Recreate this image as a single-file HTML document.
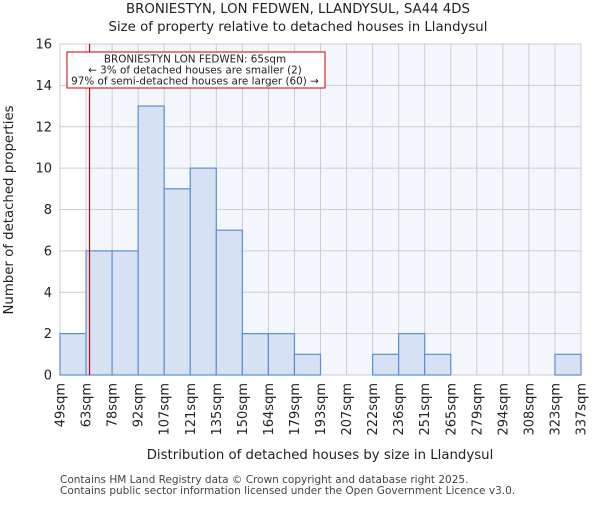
<!DOCTYPE html>
<html><head><meta charset="utf-8"><style>
body{margin:0;background:#fff;font-family:"Liberation Sans","DejaVu Sans",sans-serif}
</style></head><body>
<svg id="c" width="600" height="500" xmlns="http://www.w3.org/2000/svg" font-family="DejaVu Sans, Liberation Sans, sans-serif">
<text x="298" y="13" text-anchor="middle" font-size="13.3" fill="#222">BRONIESTYN, LON FEDWEN, LLANDYSUL, SA44 4DS</text>
<text x="298" y="31" text-anchor="middle" font-size="13.3" fill="#222">Size of property relative to detached houses in Llandysul</text>
<g id="plot"></g>
<text x="320" y="459" text-anchor="middle" font-size="13.3" fill="#222">Distribution of detached houses by size in Llandysul</text>
<text transform="translate(13,210) rotate(-90)" text-anchor="middle" font-size="13.3" fill="#222">Number of detached properties</text>
<text x="60" y="483" font-size="10.5" fill="#444">Contains HM Land Registry data © Crown copyright and database right 2025.</text>
<text x="60" y="494" font-size="10.5" fill="#444">Contains public sector information licensed under the Open Government Licence v3.0.</text>
</svg>
<script>
const binLabels=["49sqm","63sqm","78sqm","92sqm","107sqm","121sqm","135sqm","150sqm","164sqm","179sqm","193sqm","207sqm","222sqm","236sqm","251sqm","265sqm","279sqm","294sqm","308sqm","323sqm","337sqm"];
const binEdges=[49,63,78,92,107,121,135,150,164,179,193,207,222,236,251,265,279,294,308,323,337];
const counts=[2,6,6,13,9,10,7,2,2,1,0,0,1,2,1,0,0,0,0,1];
const yTicks=[0,2,4,6,8,10,12,14,16];
const subjectSize=65;
const x0=60,x1=581,y0=375,y1=44,nb=counts.length;
const bw=(x1-x0)/nb;
const xi=i=>x0+i*bw;
const xv=v=>{for(let i=0;i<nb;i++){if(v<=binEdges[i+1]){return xi(i)+(v-binEdges[i])/(binEdges[i+1]-binEdges[i])*bw;}}return x1;};
const y=v=>y0-(v/16)*(y0-y1);
const NS="http://www.w3.org/2000/svg";
const g=document.getElementById('plot');
function mk(t,a){const e=document.createElementNS(NS,t);for(const k in a)e.setAttribute(k,a[k]);g.appendChild(e);return e;}
const sx=xv(subjectSize);
let e=mk('rect',{x:sx,y:y1,width:x1-sx,height:y0-y1,fill:'#f3f7fd'});


for(let i=0;i<=nb;i++){e=mk('line',{x1:xi(i),x2:xi(i),y1:y1,y2:y0,stroke:'#cccccc','stroke-width':1});

}
yTicks.forEach(t=>{e=mk('line',{x1:x0,x2:x1,y1:y(t),y2:y(t),stroke:'#cccccc','stroke-width':1});


e=mk('text',{x:x0-8,y:y(t)+4.5,'text-anchor':'end','font-size':13,fill:'#222'});e.textContent=t;

});
counts.forEach((c,i)=>{if(c>0){e=mk('rect',{x:xi(i),y:y(c),width:bw,height:y0-y(c),fill:'#d6e2f3',stroke:'#5b8fd4','stroke-width':1.2});

}});
binLabels.forEach((l,i)=>{e=mk('text',{transform:`translate(${xi(i)+4.5},383) rotate(-90)`,'text-anchor':'end','font-size':13,fill:'#222'});e.textContent=l;

});
e=mk('line',{x1:sx,x2:sx,y1:y1,y2:y0,stroke:'#cc0000','stroke-width':1.2});


e=mk('rect',{x:67,y:52,width:258,height:36,fill:'#fff',stroke:'#cc0000','stroke-width':1});


["BRONIESTYN LON FEDWEN: 65sqm","← 3% of detached houses are smaller (2)","97% of semi-detached houses are larger (60) →"].forEach((t,i)=>{
e=mk('text',{x:195,y:62.5+i*11,'text-anchor':'middle','font-size':10.4,fill:'#222'});e.textContent=t;

});
</script>
</body></html>
